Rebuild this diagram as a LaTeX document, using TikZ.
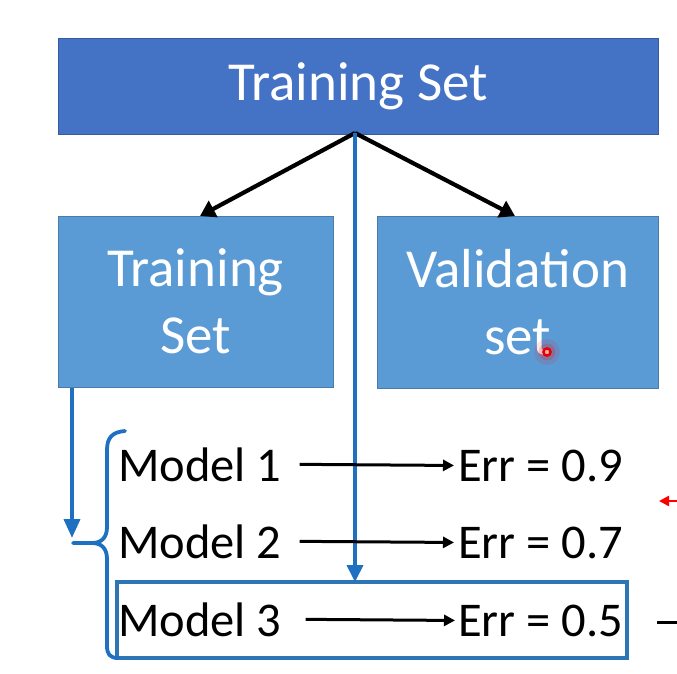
\documentclass[tikz,border=0pt]{standalone}
\usepackage{fontspec}
\setmainfont{Carlito}
\usetikzlibrary{arrows.meta}
\definecolor{topblue}{HTML}{4472C4}
\definecolor{midblue}{HTML}{5B9BD5}
\definecolor{lineblue}{HTML}{1F70C1}
\definecolor{boxblue}{HTML}{2E75B6}
\tikzset{
  bigbox/.style={draw=#1!80!black, line width=0.6pt, fill=#1, text=white, inner sep=0pt, align=center, font=\fontsize{55}{67}\selectfont},
  modeltxt/.style={inner sep=0pt, anchor=base west, font=\fontsize{48.5}{56}\selectfont},
  blarrow/.style={line width=4.2pt, -{Triangle[length=15pt,width=18pt]}},
  smarrow/.style={line width=3pt, -{Triangle[length=11pt,width=11pt]}},
  blueline/.style={draw=lineblue, line width=3.8pt},
}
\begin{document}
\begin{tikzpicture}[x=1pt,y=-1pt]
\useasboundingbox (0,0) rectangle (677,673);
\fill[white] (0,0) rectangle (677,673);
% boxes
\node[bigbox=topblue, minimum width=600pt, minimum height=96pt] (top) at (358,86) {Training Set};
\node[bigbox=midblue, minimum width=275pt, minimum height=171pt] (ltrain) at (195.5,301.5) {Training\\Set};
\node[bigbox=midblue, minimum width=281pt, minimum height=172pt] (valid) at (517.5,302) {Validation\\set};
% laser dot
\fill[red, opacity=0.10] (547,352) circle (13pt);
\fill[red, opacity=0.18] (547,352) circle (8.5pt);
\draw[red!90!black, line width=2.4pt, fill=red!35] (547,352) circle (3.6pt);
% model 3 box
\node[draw=boxblue, line width=3.4pt, minimum width=510pt, minimum height=76pt, inner sep=0pt] (m3box) at (372,620) {};
% black arrows
\coordinate (src) at (355,133);
\draw[blarrow] (src) -- (200,216);
\draw[blarrow] (src) -- (515,216);
% blue vertical arrow
\coordinate (m3top) at (355,582);
\draw[blueline, -{Triangle[length=17pt,width=16pt]}] (src) -- (m3top);
% left blue arrow
\coordinate (lstart) at (72,388);
\coordinate (lend) at (72,538);
\draw[blueline, -{Triangle[length=19pt,width=16pt]}] (lstart) -- (lend);
% brace
\draw[blueline, line cap=round, line join=round] (125,431) .. controls (112,432) and (107,438) .. (107,450) -- (107,527)
   .. controls (107,537) and (102,543) .. (92,543) -- (73,543);
\draw[blueline, line cap=round, line join=round] (92,543) .. controls (102,543) and (107,549) .. (107,559) -- (107,646)
   .. controls (107,654) and (110,658) .. (118,658);
% models
\node[modeltxt] (m1) at (118,481) {Model 1};
\node[modeltxt] (e1) at (458,481) {Err = 0.9};
\node[modeltxt] (m2) at (118,558) {Model 2};
\node[modeltxt] (e2) at (458,558) {Err = 0.7};
\node[modeltxt] (m3) at (118,636) {Model 3};
\node[modeltxt] (e3) at (458,636) {Err = 0.5};
\draw[smarrow] ([xshift=18pt]m1.east) -- ([xshift=-4pt]e1.west);
\draw[smarrow] ([xshift=18pt]m2.east) -- ([xshift=-4pt]e2.west);
\draw[smarrow] ([xshift=24pt]m3.east) -- ([xshift=-3pt]e3.west);
% right edge fragments
\coordinate (ra) at (677,501);
\coordinate (rb) at (659,501);
\draw[red, line width=2.4pt, -{Triangle[length=10pt,width=10pt]}] (ra) -- (rb);
\coordinate (ka) at (657,622);
\coordinate (kb) at (677,622);
\draw[line width=3pt] (ka) -- (kb);
\end{tikzpicture}
\end{document}
